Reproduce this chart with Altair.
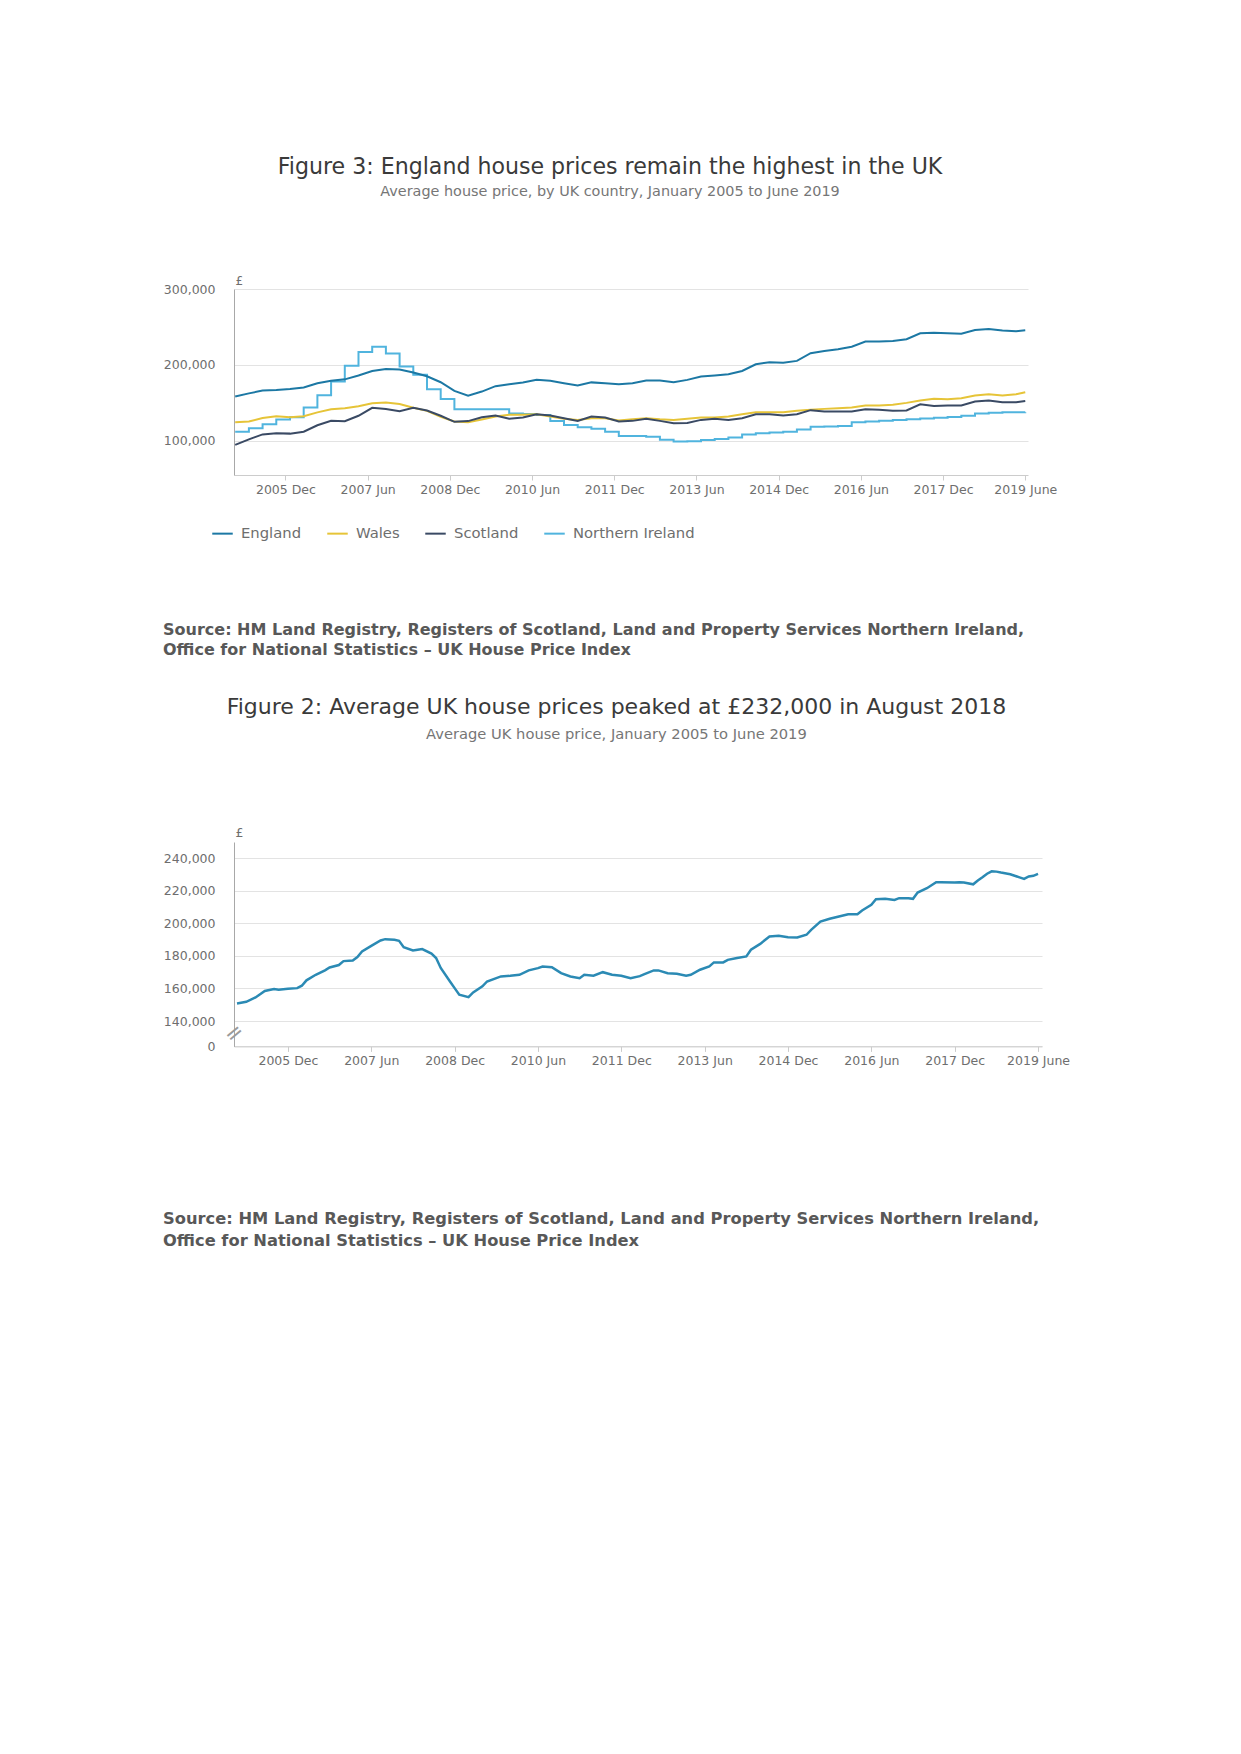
import altair as alt
import pandas as pd

# ---------------- Figure 3 data (month index: 0 = Jan 2005, 173 = Jun 2019), £ ----------------
country_months = [0, 3, 6, 9, 12, 15, 18, 21, 24, 27,
                  30, 33, 36, 39, 42, 45, 48, 51, 54, 57,
                  60, 63, 66, 69, 72, 75, 78, 81, 84, 87,
                  90, 93, 96, 99, 102, 105, 108, 111, 114, 117,
                  120, 123, 126, 129, 132, 135, 138, 141, 144, 147,
                  150, 153, 156, 159, 162, 165, 168, 171, 173]

england = [158300, 162500, 166200, 167100, 168400, 170200, 175900, 179000, 181000, 186000,
           192000, 194700, 194000, 190000, 185000, 177200, 165800, 159500, 164900, 172000,
           174600, 176800, 180300, 179000, 176000, 172800, 177000, 176000, 174600, 176000,
           179400, 179400, 177200, 180300, 184600, 186000, 187700, 192000, 200900, 203500,
           203000, 205300, 215400, 218400, 220600, 224000, 230700, 230700, 231600, 233800,
           241700, 242500, 241700, 241000, 246000, 247400, 245200, 244300, 245600]

wales = [124600, 125500, 130000, 132500, 131000, 132500, 137500, 141700, 143000, 145500,
         149500, 150400, 148500, 143500, 139500, 131500, 125500, 124500, 128000, 132000,
         134200, 134200, 135000, 132000, 129000, 127600, 129800, 129800, 126700, 128500,
         129800, 128500, 127600, 129000, 130700, 130700, 132000, 135000, 137700, 137700,
         137700, 139500, 140800, 142100, 143000, 143900, 146500, 146500, 147400, 150000,
         153100, 155300, 154800, 156100, 159600, 161400, 159600, 161400, 164000]

scotland = [94700, 102000, 108500, 110000, 109500, 112000, 120500, 126300, 125800, 133000,
            143500, 142000, 139000, 143500, 140000, 133000, 125000, 126000, 131000, 133300,
            129000, 130700, 135000, 133300, 129800, 126300, 132000, 130700, 125400, 126300,
            129000, 126300, 123200, 123500, 127600, 129000, 127600, 129800, 135000, 135000,
            133300, 135000, 140400, 138600, 138600, 138600, 141700, 140800, 139500, 140000,
            148200, 146000, 146500, 146500, 151800, 153100, 150900, 150900, 152600]

# Northern Ireland is quarterly (drawn as steps)
ni_months = country_months
northern_ireland = [112000, 116500, 122000, 128000, 131000, 144000, 160000, 178000, 199000, 217000,
                    224000, 215000, 198000, 187000, 168000, 155000, 141500, 141500, 141500, 141500,
                    136000, 135500, 134000, 126000, 121000, 118000, 116000, 112000, 106500, 106500,
                    105500, 101500, 99000, 99500, 101000, 102500, 104500, 108500, 110000, 111000,
                    112000, 115000, 118500, 119000, 119500, 124500, 125500, 126500, 127500, 128500,
                    129500, 130500, 131500, 133000, 136000, 137000, 137500, 137500, 137700]

# ---------------- Figure 2 data: UK average price ----------------
uk_months = [0, 2, 4, 6, 8, 9, 11, 13, 14, 15, 17, 19, 20, 22, 23, 25, 26, 27, 29, 31,
             32, 34, 35, 36, 38, 39, 40, 42, 43, 44, 46, 47, 48, 50, 51, 53, 54, 57, 59, 61,
             63, 65, 66, 68, 70, 72, 74, 75, 77, 79, 81, 83, 85, 87, 88, 90, 91, 93, 95, 97,
             98, 100, 102, 103, 105, 106, 108, 110, 111, 113, 115, 117, 119, 121, 123, 124, 126, 128, 130, 132,
             134, 135, 137, 138, 140, 142, 143, 145, 146, 147, 149, 151, 152, 155, 156, 157, 159, 160, 161, 162,
             163, 164, 165, 167, 169, 170, 171, 172, 173]
uk_price = [150800, 151800, 154500, 158500, 159600, 159200, 159800, 160200, 161700, 165000,
            168400, 171100, 172900, 174400, 176800, 177200, 179300, 182700, 186200, 189500,
            190300, 189900, 189300, 185400, 183400, 183800, 184200, 181400, 178700, 172600,
            164300, 160200, 156200, 154700, 157600, 161300, 164300, 167400, 167800, 168400,
            171100, 172500, 173500, 173100, 169400, 167400, 166300, 168400, 167800, 170000,
            168400, 167800, 166300, 167600, 168800, 171100, 171100, 169400, 169000, 167800,
            168400, 171500, 173500, 176000, 176000, 177600, 178700, 179700, 183800, 187400,
            191900, 192400, 191500, 191300, 193000, 196000, 201100, 202800, 204200, 205600,
            205600, 207900, 211400, 214800, 215100, 214400, 215500, 215500, 215100, 218900,
            221600, 225300, 225300, 225100, 225300, 225100, 224000, 226300, 228300, 230500,
            232000, 231800, 231200, 230200, 228300, 227300, 228800, 229200, 230400]

# ---------------- axis ticks / labels ----------------
tick_months = [11, 29, 47, 65, 83, 101, 119, 137, 155, 173]
tick_labels = ["2005 Dec", "2007 Jun", "2008 Dec", "2010 Jun", "2011 Dec",
               "2013 Jun", "2014 Dec", "2016 Jun", "2017 Dec", "2019 June"]
fig3_y_ticks = [100000, 200000, 300000]
fig2_y_ticks = [124400, 140000, 160000, 180000, 200000, 220000, 240000]

countries = ["England", "Wales", "Scotland", "Northern Ireland"]
country_colors = ["#1c78a4", "#e6c438", "#3a4a64", "#50b4de"]
uk_color = "#2b8ab4"

source_text = ("Source: HM Land Registry, Registers of Scotland, Land and Property Services Northern Ireland,\n"
               "Office for National Statistics \u2013 UK House Price Index")

FONT = "DejaVu Sans"
LABEL_COLOR = "#6e6e6e"
GRID = "#e3e3e3"
LBL = 12.5

label_expr = ("[" + ",".join("'%s'" % l for l in tick_labels) + "][indexof(["
              + ",".join(str(m) for m in tick_months) + "], datum.value)]")

# ---------------- build tables ----------------
rows = []
for name, vals in [("England", england), ("Wales", wales), ("Scotland", scotland)]:
    for m, v in zip(country_months, vals):
        rows.append({"month": m, "price": v, "country": name})
df_c = pd.DataFrame(rows)
df_ni = pd.DataFrame({"month": ni_months, "price": northern_ireland, "country": "Northern Ireland"})
df_uk = pd.DataFrame({"month": uk_months, "price": uk_price})


def x_axis():
    return alt.Axis(values=tick_months, labelExpr=label_expr, title=None, grid=False,
                    labelFlush=False, labelOverlap=False, tickSize=5, tickColor="#cccccc",
                    domainColor="#cccccc", labelPadding=3, labelFontSize=LBL,
                    labelFont=FONT, labelColor=LABEL_COLOR)


def y_axis(values, expr, title_y, title_size):
    return alt.Axis(values=values, labelExpr=expr, title="\u00a3", titleAngle=0, titleX=1, titleY=title_y,
                    titleAlign="left", titleBaseline="bottom", titleFont=FONT, titleFontWeight="normal",
                    titleFontSize=title_size, titleColor=LABEL_COLOR, ticks=False, labelPadding=19,
                    domainColor="#a8a8a8", gridColor=GRID, labelFont=FONT, labelFontSize=LBL,
                    labelColor=LABEL_COLOR)


color_enc = alt.Color("country:N", scale=alt.Scale(domain=countries, range=country_colors),
                      legend=alt.Legend(orient="none", legendX=-23, legendY=232.8, direction="horizontal",
                                        title=None, symbolType="stroke", symbolSize=420,
                                        symbolStrokeWidth=2, labelFont=FONT, labelFontSize=14.8,
                                        labelColor=LABEL_COLOR, columnPadding=21, labelOffset=7))

x1 = alt.X("month:Q", scale=alt.Scale(domain=[-0.26, 173.6], nice=False, zero=False), axis=x_axis())
y1 = alt.Y("price:Q", scale=alt.Scale(domain=[55000, 300000], nice=False, zero=False),
           axis=y_axis(fig3_y_ticks, "format(datum.value, ',')", -2, 12))

base1 = alt.Chart(df_c)
ni_layer = alt.Chart(df_ni).mark_line(interpolate="step-after", strokeWidth=2).encode(x=x1, y=y1, color=color_enc)
layers = [ni_layer]
for name in ["Wales", "Scotland", "England"]:
    layers.append(base1.transform_filter(alt.datum.country == name)
                  .mark_line(strokeWidth=2).encode(x=x1, y=y1, color=color_enc))

fig3 = alt.layer(*layers).properties(
    width=794, height=186,
    title=alt.Title(text="Figure 3: England house prices remain the highest in the UK",
                    subtitle="Average house price, by UK country, January 2005 to June 2019",
                    font=FONT, fontSize=22.1, fontWeight="normal", color="#3a3a3a",
                    subtitleFont=FONT, subtitleFontSize=14.4, subtitleColor="#767676",
                    anchor="middle", frame="bounds", offset=75, subtitlePadding=6))

src1 = alt.Chart(pd.DataFrame({"t": [source_text]})).mark_text(
    align="left", baseline="top", font=FONT, fontWeight="bold", fontSize=16,
    color="#585858", lineBreak="\n", lineHeight=20).encode(
    text="t:N", x=alt.value(-71), y=alt.value(146.6)).properties(width=794, height=366.6)

# ---------------- Figure 2 ----------------
x2 = alt.X("month:Q", scale=alt.Scale(domain=[-0.65, 173.86], nice=False, zero=False), axis=x_axis())
y2 = alt.Y("price:Q", scale=alt.Scale(domain=[124400, 250000], nice=False, zero=False),
           axis=y_axis(fig2_y_ticks, "datum.value < 130000 ? '0' : format(datum.value, ',')", -3, 12.5))

uk_line = alt.Chart(df_uk).mark_line(strokeWidth=2.5, color=uk_color).encode(x=x2, y=y2)
brk = alt.Chart(pd.DataFrame({"month": [-0.65], "price": [132500]})).mark_text(
    text="=", angle=320, fontSize=22, color="#9a9a9a", font="DejaVu Sans").encode(x=x2, y=y2)

fig2 = alt.layer(uk_line, brk).properties(
    width=808, height=204.4,
    title=alt.Title(text="Figure 2: Average UK house prices peaked at \u00a3232,000 in August 2018",
                    subtitle="Average UK house price, January 2005 to June 2019",
                    font=FONT, fontSize=22, fontWeight="normal", color="#3a3a3a",
                    subtitleFont=FONT, subtitleFontSize=14.7, subtitleColor="#767676",
                    anchor="middle", frame="bounds", offset=83, subtitlePadding=8))

src2 = alt.Chart(pd.DataFrame({"t": [source_text]})).mark_text(
    align="left", baseline="top", font=FONT, fontWeight="bold", fontSize=16.3,
    color="#585858", lineBreak="\n", lineHeight=22).encode(
    text="t:N", x=alt.value(-71), y=alt.value(164)).properties(width=794, height=220)

chart = alt.vconcat(fig3, src1, fig2, src2, spacing=0, bounds="flush").properties(
    padding={"left": 155, "top": 147, "right": 5, "bottom": 5}
).configure_view(stroke=None)

chart.save("out.html", embed_options={"renderer": "svg", "actions": False})
